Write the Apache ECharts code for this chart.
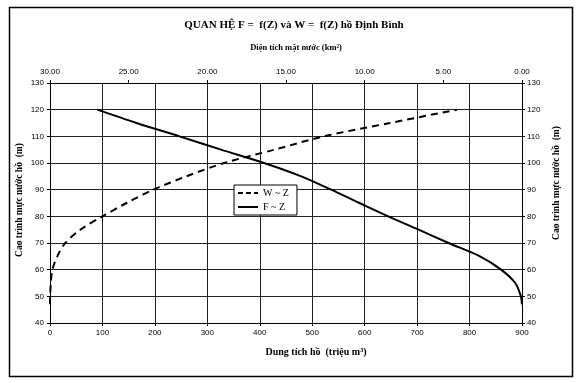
<!DOCTYPE html>
<html>
<head>
<meta charset="utf-8">
<script src="https://cdn.jsdelivr.net/npm/echarts@6/dist/echarts.min.js"></script>
<style>
html,body{margin:0;padding:0;background:#fff;}
#chart{width:576px;height:383px;}
</style>
</head>
<body>
<div id="chart"></div>
<script>
// Water level Z (m)
var wLevels = [47, 50, 55, 60, 65, 70, 75, 80, 85, 90, 95, 100, 105, 110, 115, 120];
// Reservoir volume W (million m3)
var wVolume = [0, 0.3, 1.5, 4.5, 14, 29, 58, 100, 146, 197, 260, 332, 428, 522, 648, 776];
// Water surface area F (km2)
var fLevels = [47, 50, 55, 60, 65, 70, 75, 80, 85, 90, 95, 100, 105, 110, 115, 120];
var fArea = [0, 0.07, 0.43, 1.33, 2.67, 4.67, 6.57, 8.5, 10.33, 12.13, 14.03, 16.4, 19.13, 21.77, 24.5, 27.0];

var titleText = 'QUAN HỆ F =  f(Z) và W =  f(Z) hồ Định Bình';
var topAxisName = 'Diện tích mặt nước (km²)';
var bottomAxisName = 'Dung tích hồ  (triệu m³)';
var yAxisName = 'Cao trình mực nước hồ  (m)';
var seriesNames = ['W ~ Z', 'F ~ Z'];

var wData = wLevels.map(function (z, i) { return [wVolume[i], z]; });
var fData = fLevels.map(function (z, i) { return [fArea[i], z]; });

var serif = '"Liberation Serif", "Times New Roman", serif';
var sans = '"Liberation Sans", Arial, sans-serif';
var axisLabelStyle = { fontFamily: sans, fontSize: 8, color: '#000' };

var chart = echarts.init(document.getElementById('chart'), null, { renderer: 'canvas' });
chart.setOption({
  animation: false,
  backgroundColor: '#fff',
  grid: { left: 50, right: 54, top: 83, bottom: 60 },
  legend: {
    data: [
      { name: seriesNames[0], lineStyle: { type: [5, 3], width: 2, color: '#000' } },
      { name: seriesNames[1], lineStyle: { type: 'solid', width: 2, color: '#000' } }
    ],
    orient: 'vertical',
    left: 234,
    top: 185,
    itemWidth: 20,
    itemHeight: 10,
    itemGap: 4,
    padding: [3, 8, 3, 3],
    backgroundColor: '#fff',
    borderColor: '#000',
    borderWidth: 1,
    itemStyle: { opacity: 0 },
    textStyle: { fontFamily: serif, fontSize: 10, color: '#000' }
  },
  xAxis: [
    {
      type: 'value', position: 'bottom', min: 0, max: 900, interval: 100,
      axisLine: { show: true, lineStyle: { color: '#000', width: 1 } },
      axisTick: { show: true, length: 3, lineStyle: { color: '#000' } },
      axisLabel: Object.assign({ margin: 6 }, axisLabelStyle),
      splitLine: { show: true, lineStyle: { color: '#222', width: 1 } }
    },
    {
      type: 'value', position: 'top', min: 0, max: 30, interval: 5, inverse: true,
      axisLine: { show: true, lineStyle: { color: '#000', width: 1 } },
      axisTick: { show: true, length: 3, lineStyle: { color: '#000' } },
      axisLabel: Object.assign({ margin: 7, formatter: function (v) { return v.toFixed(2); } }, axisLabelStyle),
      splitLine: { show: false }
    }
  ],
  yAxis: [
    {
      type: 'value', position: 'left', min: 40, max: 130, interval: 10,
      axisLine: { show: true, lineStyle: { color: '#000', width: 1 } },
      axisTick: { show: true, length: 3, lineStyle: { color: '#000' } },
      axisLabel: Object.assign({ margin: 6 }, axisLabelStyle),
      splitLine: { show: true, lineStyle: { color: '#222', width: 1 } }
    },
    {
      type: 'value', position: 'right', min: 40, max: 130, interval: 10,
      axisLine: { show: true, lineStyle: { color: '#000', width: 1 } },
      axisTick: { show: true, length: 3, lineStyle: { color: '#000' } },
      axisLabel: Object.assign({ margin: 5 }, axisLabelStyle),
      splitLine: { show: false }
    }
  ],
  series: [
    {
      name: seriesNames[0], type: 'line', xAxisIndex: 0, yAxisIndex: 0,
      data: wData, showSymbol: false, symbol: 'none', smooth: 0.3,
      lineStyle: { color: '#000', width: 2, type: [7, 5] },
      itemStyle: { color: '#000' }
    },
    {
      name: seriesNames[1], type: 'line', xAxisIndex: 1, yAxisIndex: 0,
      data: fData, showSymbol: false, symbol: 'none', smooth: 0.3,
      lineStyle: { color: '#000', width: 2 },
      itemStyle: { color: '#000' }
    }
  ],
  graphic: [
    {
      type: 'rect', left: 7, top: 5, z: -1, silent: true,
      shape: { width: 563, height: 369 },
      style: { fill: 'none', stroke: '#000', lineWidth: 1.5 }
    },
    {
      type: 'text', x: 294, y: 25,
      style: { text: titleText, font: 'bold 11px ' + serif, fill: '#000', align: 'center', verticalAlign: 'middle' }
    },
    {
      type: 'text', x: 296, y: 48,
      style: { text: topAxisName, font: 'bold 8.5px ' + serif, fill: '#000', align: 'center', verticalAlign: 'middle' }
    },
    {
      type: 'text', x: 316, y: 352,
      style: { text: bottomAxisName, font: 'bold 10px ' + serif, fill: '#000', align: 'center', verticalAlign: 'middle' }
    },
    {
      type: 'text', x: 20, y: 200, rotation: Math.PI / 2,
      style: { text: yAxisName, font: 'bold 9.5px ' + serif, fill: '#000', align: 'center', verticalAlign: 'middle' }
    },
    {
      type: 'text', x: 557, y: 183, rotation: Math.PI / 2,
      style: { text: yAxisName, font: 'bold 9.5px ' + serif, fill: '#000', align: 'center', verticalAlign: 'middle' }
    }
  ]
});
</script>
</body>
</html>
